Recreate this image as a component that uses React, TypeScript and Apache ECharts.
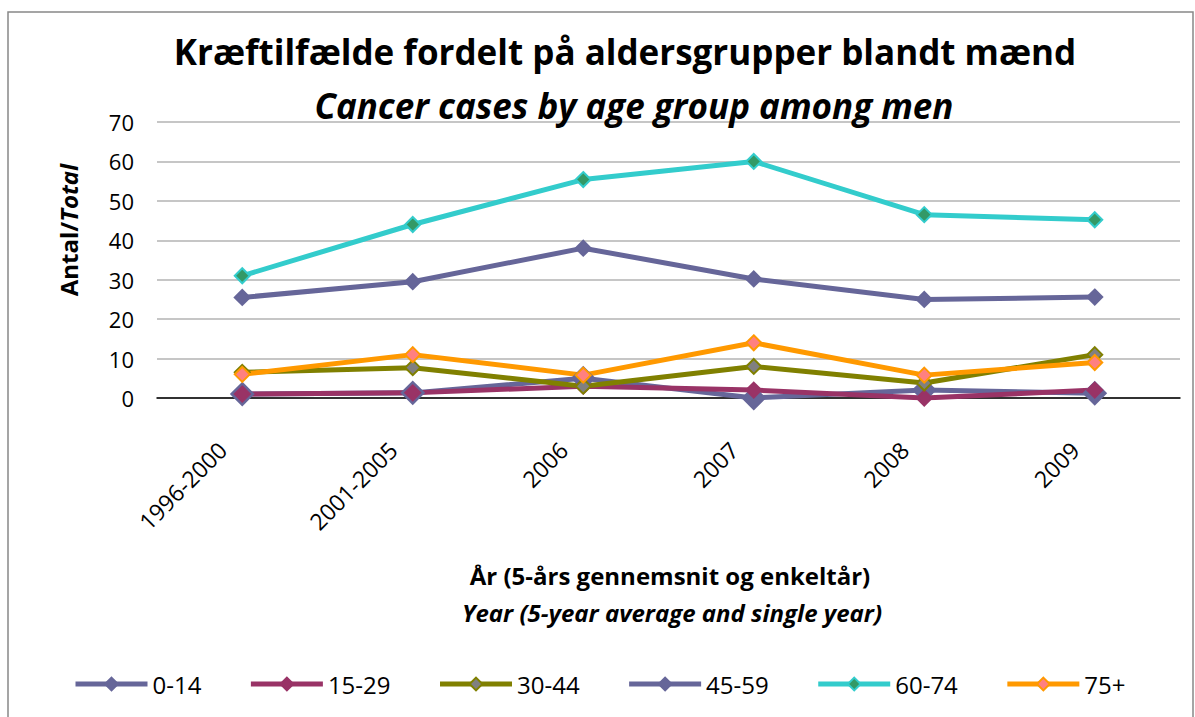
import React, { useEffect, useRef } from "react";
import * as echarts from "echarts";

const categories = ["1996-2000", "2001-2005", "2006", "2007", "2008", "2009"];
const yTicks = [0, 10, 20, 30, 40, 50, 60, 70];
const s0_14 = [1, 1.3, 5, 0, 2, 1.2];
const s15_29 = [1, 1.3, 3, 2, 0, 2];
const s30_44 = [6.5, 7.7, 3, 8, 3.8, 11];
const s45_59 = [25.5, 29.5, 38, 30.2, 25, 25.6];
const s60_74 = [31, 44, 55.4, 60, 46.5, 45.2];
const s75 = [6, 11, 5.8, 14, 5.8, 9];

const seriesDefs = [
  { name: "0-14", data: s0_14, line: "#666699", fill: "#666699", size: 22 },
  { name: "15-29", data: s15_29, line: "#993366", fill: "#993366", size: 15 },
  { name: "30-44", data: s30_44, line: "#808000", fill: "#808080", size: 15 },
  { name: "45-59", data: s45_59, line: "#666699", fill: "#666699", size: 15 },
  { name: "60-74", data: s60_74, line: "#33CCCC", fill: "#339966", size: 15 },
  { name: "75+", data: s75, line: "#FF9900", fill: "#FF8080", size: 15 },
];

const FONT = "'Open Sans', 'DejaVu Sans', sans-serif";

export default function App() {
  const ref = useRef<HTMLDivElement>(null);
  useEffect(() => {
    if (!ref.current) return;
    const chart = echarts.init(ref.current, null, { renderer: "svg" });
    chart.setOption({
      animation: false,
      backgroundColor: "#ffffff",
      textStyle: { fontFamily: FONT },
      title: [
        {
          text: "Kræftilfælde fordelt på aldersgrupper blandt mænd",
          left: 620,
          textAlign: "center",
          top: 29,
          textStyle: { fontSize: 35, fontWeight: "bold", color: "#000", fontFamily: FONT },
        },
        {
          text: "Cancer cases by age group among men",
          left: 629,
          textAlign: "center",
          top: 83,
          textStyle: { fontSize: 35, fontWeight: "bold", fontStyle: "italic", color: "#000", fontFamily: FONT },
        },
      ],
      graphic: [
        {
          type: "rect",
          shape: { x: 8, y: 12, width: 1185, height: 710 },
          style: { fill: "none", stroke: "#888", lineWidth: 1.5 },
          silent: true,
        },
        {
          type: "text",
          x: 68,
          y: 230,
          rotation: Math.PI / 2,
          style: {
            text: "{a|Antal/}{b|Total}",
            textAlign: "center",
            textVerticalAlign: "middle",
            rich: {
              a: { fontSize: 24, fontWeight: "bold", fill: "#000", fontFamily: FONT },
              b: { fontSize: 24, fontWeight: "bold", fontStyle: "italic", fill: "#000", fontFamily: FONT },
            },
          },
        },
        {
          type: "text",
          x: 670,
          y: 575,
          style: {
            text: "År (5-års gennemsnit og enkeltår)",
            font: `bold 24px ${FONT}`,
            fill: "#000",
            textAlign: "center",
            textVerticalAlign: "middle",
          },
        },
        {
          type: "text",
          x: 672,
          y: 612,
          style: {
            text: "Year (5-year average and single year)",
            font: `italic bold 24px ${FONT}`,
            fill: "#000",
            textAlign: "center",
            textVerticalAlign: "middle",
          },
        },
      ],
      legend: {
        bottom: 16,
        left: 68,
        itemWidth: 72,
        itemHeight: 16,
        itemGap: 47,
        lineStyle: { width: 5 },
        textStyle: { fontSize: 24, color: "#000", fontFamily: FONT },
        data: seriesDefs.map((s) => s.name),
      },
      grid: { left: 157, right: 15, top: 122, bottom: 319, containLabel: false },
      xAxis: {
        type: "category",
        data: categories,
        boundaryGap: true,
        axisLine: { show: true, lineStyle: { color: "#000", width: 1.5 } },
        axisTick: { show: false },
        axisLabel: {
          rotate: 45,
          fontSize: 23,
          color: "#000",
          margin: 28,
          padding: [0, 28, 0, 0],
          fontFamily: FONT,
        },
      },
      yAxis: {
        type: "value",
        min: yTicks[0],
        max: yTicks[yTicks.length - 1],
        interval: 10,
        axisLine: { show: false },
        axisTick: { show: false },
        splitLine: { lineStyle: { color: "#b3b3b3", width: 1.5 } },
        axisLabel: { fontSize: 22, color: "#000", margin: 23, fontFamily: FONT },
      },
      series: seriesDefs.map((s) => ({
        name: s.name,
        type: "line",
        data: s.data,
        symbol: "diamond",
        symbolSize: s.size,
        lineStyle: { color: s.line, width: 5 },
        itemStyle: { color: s.fill, borderColor: s.line, borderWidth: 2 },
        emphasis: { disabled: true },
      })),
    });
    return () => chart.dispose();
  }, []);
  return <div ref={ref} style={{ width: 1195, height: 717, position: "absolute", left: 0, top: 0 }} />;
}
